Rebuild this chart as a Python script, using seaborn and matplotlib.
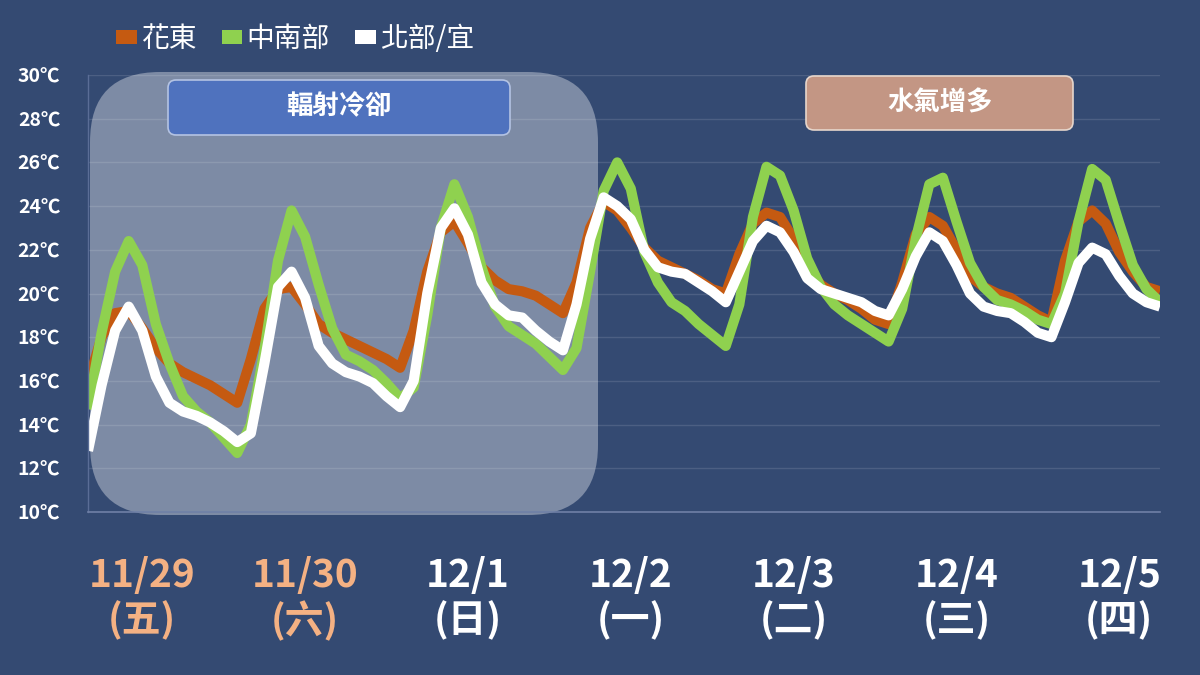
import numpy as np
import pandas as pd
import matplotlib
matplotlib.use("Agg")
import matplotlib.pyplot as plt
from matplotlib.patches import FancyBboxPatch, Patch
import seaborn as sns

# 2-hourly forecast points, 11/29 08:00 -> 12/5 22:00 (approx)
hualien = [15.9, 18.0, 19.1, 19.2, 18.4, 17.5, 16.8, 16.4, 16.1, 15.8, 15.4, 15.0,
           17.0, 19.3, 20.2, 20.3, 19.5, 18.6, 18.2, 17.9, 17.6, 17.3, 17.0, 16.6,
           18.3, 21.0, 22.8, 23.3, 22.3, 21.2, 20.6, 20.2, 20.1, 19.9, 19.5, 19.1,
           20.5, 23.0, 24.2, 23.8, 23.0, 22.1, 21.5, 21.2, 20.9, 20.6, 20.2, 20.0,
           21.8, 23.2, 23.7, 23.5, 22.5, 21.2, 20.4, 20.0, 19.7, 19.3, 18.8, 18.6,
           20.5, 22.7, 23.5, 23.1, 22.0, 20.8, 20.3, 20.0, 19.8, 19.4, 19.0, 18.7,
           21.5, 23.3, 23.8, 23.2, 21.9, 21.0, 20.3, 20.1]
central_south = [14.7, 18.2, 21.0, 22.4, 21.3, 18.6, 16.8, 15.3, 14.6, 14.1, 13.4, 12.7,
                 14.0, 17.4, 21.5, 23.8, 22.6, 20.4, 18.4, 17.2, 16.9, 16.5, 15.9, 15.2,
                 15.7, 19.0, 23.0, 25.0, 23.5, 21.2, 19.4, 18.5, 18.1, 17.7, 17.1, 16.5,
                 17.5, 21.0, 24.7, 26.0, 24.8, 21.9, 20.5, 19.6, 19.2, 18.6, 18.1, 17.6,
                 19.5, 23.5, 25.8, 25.4, 23.8, 21.6, 20.3, 19.5, 19.0, 18.6, 18.2, 17.8,
                 19.3, 22.5, 25.0, 25.3, 23.3, 21.4, 20.3, 19.7, 19.5, 19.2, 18.8, 18.6,
                 20.0, 23.3, 25.7, 25.2, 23.2, 21.3, 20.2, 19.6]
north_yilan = [12.8, 15.8, 18.3, 19.4, 18.3, 16.2, 15.0, 14.6, 14.4, 14.1, 13.7, 13.2,
               13.6, 16.8, 20.3, 21.0, 19.8, 17.6, 16.8, 16.4, 16.2, 15.9, 15.3, 14.8,
               16.0, 20.0, 23.0, 23.9, 22.7, 20.5, 19.5, 19.0, 18.9, 18.3, 17.8, 17.4,
               19.5, 22.5, 24.4, 24.0, 23.4, 22.0, 21.2, 21.0, 20.9, 20.5, 20.1, 19.6,
               21.0, 22.4, 23.1, 22.8, 21.9, 20.7, 20.2, 20.0, 19.8, 19.6, 19.2, 19.0,
               20.2, 21.7, 22.8, 22.4, 21.3, 20.0, 19.4, 19.2, 19.1, 18.7, 18.2, 18.0,
               19.6, 21.4, 22.1, 21.8, 20.8, 20.0, 19.6, 19.4]

regions = ["花東", "中南部", "北部/宜"]
day_labels = ["11/29\n(五)", "11/30\n(六)", "12/1\n(日)", "12/2\n(一)",
              "12/3\n(二)", "12/4\n(三)", "12/5\n(四)"]
y_ticks = [10, 12, 14, 16, 18, 20, 22, 24, 26, 28, 30]

colors = {"花東": "#C55A11", "中南部": "#8FD14F", "北部/宜": "#FFFFFF"}
bg = "#344A72"

n = len(hualien)
df = pd.DataFrame({
    "t": np.tile(np.arange(n), 3),
    "temp": hualien + central_south + north_yilan,
    "region": np.repeat(regions, n),
})

sns.set_theme(style="white")
plt.rcParams["font.family"] = ["Noto Sans CJK TC", "DejaVu Sans"]

fig = plt.figure(figsize=(12, 6.75), dpi=100, facecolor=bg)
ax = fig.add_axes([88 / 1200, 1 - 512 / 675, 1072 / 1200, 437 / 675])
ax.set_facecolor("none")

# rounded boxes placed in pixel coords (converted to inches)
def px_box(x0, y0, x1, y1, r, fc, ec="none", lw=0, z=-1):
    p = FancyBboxPatch((x0 / 100, (675 - y1) / 100), (x1 - x0) / 100, (y1 - y0) / 100,
                       boxstyle=f"round,pad=0,rounding_size={r / 100}",
                       transform=fig.dpi_scale_trans, fc=fc, ec=ec, lw=lw, zorder=z)
    fig.add_artist(p)

px_box(90, 72, 598, 515, 70, "#7D8BA5")

sns.lineplot(data=df, x="t", y="temp", hue="region", hue_order=regions,
             palette=colors, linewidth=7.3, legend=False, ax=ax,
             solid_joinstyle="round", solid_capstyle="butt")

ax.set_xlim(0, n - 1)
ax.set_ylim(10, 30)
ax.set_yticks(y_ticks)
ax.set_yticklabels([f"{v}℃" for v in y_ticks], fontsize=14, fontweight="bold", color="white")
ax.set_xticks([4 + 12 * k for k in range(len(day_labels))])
ax.set_xticklabels(day_labels, fontsize=28, fontweight="bold", linespacing=1.15)
for i, lab in enumerate(ax.get_xticklabels()):
    lab.set_color("#F4B183" if i < 2 else "white")
ax.tick_params(axis="y", length=0, pad=20)
ax.tick_params(axis="x", length=0, pad=32)
ax.set_xlabel("")
ax.set_ylabel("")

ax.grid(axis="y", color="white", alpha=0.12, linewidth=1)
ax.set_axisbelow(True)
for s in ["top", "right"]:
    ax.spines[s].set_visible(False)
ax.spines["bottom"].set_color("#6F80A6")
ax.spines["bottom"].set_linewidth(1.2)
ax.spines["left"].set_color("#5A6D96")
ax.spines["left"].set_linewidth(1)

# label boxes
px_box(168, 80, 510, 135, 8, "#4F72BE", ec="#B4C3E3", lw=1.2, z=5)
fig.text(339 / 1200, 1 - 107 / 675, "輻射冷卻", ha="center", va="center",
         fontsize=19, color="white", fontweight="bold", zorder=6)
px_box(806, 76, 1073, 130, 8, "#C39684", ec="#E6D6CC", lw=1.2, z=5)
fig.text(940 / 1200, 1 - 103 / 675, "水氣增多", ha="center", va="center",
         fontsize=19, color="white", fontweight="bold", zorder=6)

handles = [Patch(facecolor=colors[r], edgecolor="none") for r in regions]
fig.legend(handles, regions, loc="center left", bbox_to_anchor=(116 / 1200, 1 - 39 / 675),
           ncol=3, frameon=False, prop={"size": 20, "weight": "medium"}, labelcolor="white",
           handlelength=0.75, handleheight=0.35, handletextpad=0.15, columnspacing=0.9,
           borderpad=0, borderaxespad=0)

fig.savefig("out.png", dpi=100, facecolor=bg)
